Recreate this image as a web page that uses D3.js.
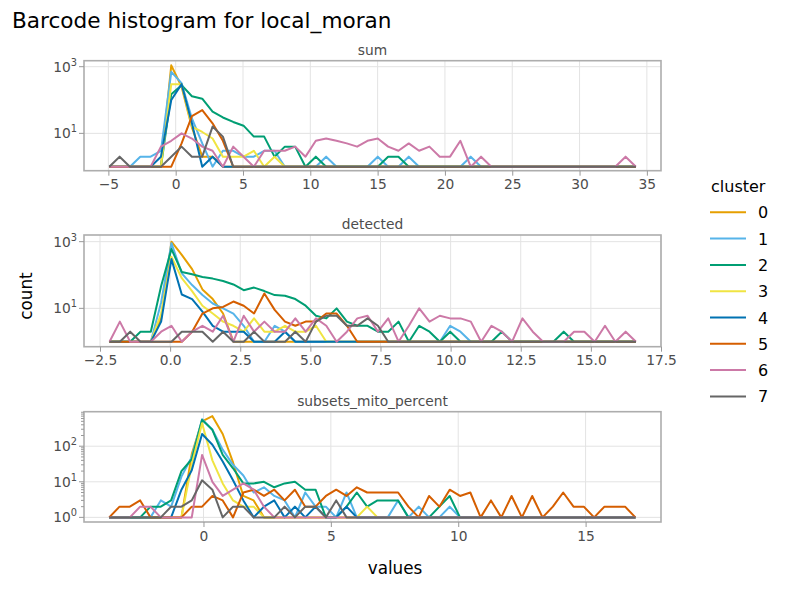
<!DOCTYPE html>
<html lang="en">
<head>
  <meta charset="UTF-8">
  <title>Barcode histogram</title>
  <style>
    body { margin: 0; background: #fff; }
    text { font-family: "DejaVu Sans", sans-serif; }
  </style>
</head>
<body>
<script src="https://d3js.org/d3.v7.min.js"></script>
<div id="chart"></div>
<script>
  // cluster ids and their colours
  const clusters = ["0", "1", "2", "3", "4", "5", "6", "7"];
  const colors = ["#E69F00", "#56B4E9", "#009E73", "#F0E442", "#0072B2", "#D55E00", "#CC79A7", "#666666"];

  const panelNames = ["sum", "detected", "subsets_mito_percent"];

  // bin centres: first centre and bin width per panel (52 bins each)
  const binStart = [-4.93, -2.16, -3.70];
  const binWidth = [0.767, 0.368, 0.405];

  const xTicks = [
    [-5, 0, 5, 10, 15, 20, 25, 30, 35],
    [-2.5, 0, 2.5, 5, 7.5, 10, 12.5, 15, 17.5],
    [0, 5, 10, 15]
  ];
  const xTickFmt = [d3.format("d"), d3.format(".1f"), d3.format("d")];
  const yTicks = [[10, 1000], [10, 1000], [1, 10, 100]];

  // counts per bin (count of 1 = empty baseline), one array per cluster
  const sumCounts = [
    [1,1,1,1,1,1,1100,250,15,2,2,1,1, 1,1,1,1,1,1,1,1,1,1,1,1,1, 1,1,1,1,1,1,1,1,1,1,1,1,1, 1,1,1,1,1,1,1,1,1,1,1,1,1],
    [1,1,1,2,2,3,700,320,28,5,1,3,3, 2,2,3,3,1,1,1,1,2,1,1,1,1, 2,1,1,2,1,1,1,1,1,2,1,1,1, 1,1,1,1,1,1,1,1,1,1,1,1,1],
    [1,1,1,1,1,1,150,280,130,110,45,30,22, 17,8,8,2,4,4,1,2,1,1,1,1,1, 1,2,2,1,1,1,1,1,1,1,1,1,1, 1,1,1,1,1,1,1,1,1,1,1,1,1],
    [1,1,1,1,1,1,300,300,16,11,7,2,2, 2,3,1,2,1,1,1,1,1,1,1,1,1, 1,1,1,1,1,1,1,1,1,1,1,1,1, 1,1,1,1,1,1,1,1,1,1,1,1,1],
    [1,1,1,1,1,2,100,300,20,1,2,1,1, 1,1,1,1,1,1,1,1,1,1,1,1,1, 1,1,1,1,1,1,1,1,1,1,1,1,1, 1,1,1,1,1,1,1,1,1,1,1,1,1],
    [1,1,1,1,1,1,1,5,33,50,20,6,1, 1,1,1,1,1,1,1,1,1,1,1,1,1, 1,1,1,1,1,1,1,1,1,1,1,1,1, 1,1,1,1,1,1,1,1,1,1,1,1,1],
    [1,1,1,1,1,4,6,10,7,4,3,1,4, 2,1,3,3,3,4,2,6,7,6,5,4,6, 7,4,3,5,3,4,2,2,6,1,2,1,1, 1,1,1,1,1,1,1,1,1,1,1,2,1],
    [1,2,1,1,1,1,2,4,2,2,16,8,1, 1,1,1,1,1,1,1,1,1,1,1,1,1, 1,1,1,1,1,1,1,1,1,1,1,1,1, 1,1,1,1,1,1,1,1,1,1,1,1,1]
  ];
  const detectedCounts = [
    [1,1,1,1,1,5,1000,400,150,37,19,7,1, 1,1,1,1,1,1,1,1,1,1,1,1,1, 1,1,1,1,1,1,1,1,1,1,1,1,1, 1,1,1,1,1,1,1,1,1,1,1,1,1],
    [1,1,1,1,1,15,900,112,50,25,14,10,7, 3,1,1,3,2,1,1,1,1,1,1,1,1, 1,1,1,1,1,1,1,3,2,1,1,1,1, 1,1,1,1,1,1,1,1,1,1,1,1,1],
    [1,1,1,2,2,47,600,123,105,87,78,66,52, 35,42,33,25,24,19,12,6,5,10,4,3,3, 2,2,4,1,3,2,1,2,1,1,1,1,2, 1,1,1,1,1,2,1,1,1,1,1,1,1],
    [1,1,1,1,1,7,350,80,33,12,7,4,3, 2,5,2,2,3,2,2,3,1,1,1,1,1, 1,1,1,1,1,1,1,1,1,1,1,1,1, 1,1,1,1,1,1,1,1,1,1,1,1,1],
    [1,1,1,1,1,4,300,26,19,8,3,2,2, 2,1,1,1,2,1,1,1,1,1,1,1,1, 1,1,1,1,1,1,1,1,1,1,1,1,1, 1,1,1,1,1,1,1,1,1,1,1,1,1],
    [1,1,1,1,1,1,1,1,2,7,10,11,16, 12,7,28,9,4,3,4,4,7,7,3,1,1, 1,1,1,1,1,1,1,1,1,1,1,1,1, 1,1,1,1,1,1,1,1,1,1,1,1,1],
    [1,4,1,1,1,2,3,1,2,3,2,6,1, 6,2,4,2,2,5,2,5,3,1,2,5,6, 2,5,1,3,10,4,6,5,5,4,1,3,2, 1,5,2,1,1,1,2,2,1,3,1,2,1],
    [1,1,2,1,1,1,1,2,2,2,1,2,1, 1,2,1,1,1,2,1,4,6,6,3,3,5, 3,1,1,1,1,1,1,1,1,1,1,1,1, 1,1,1,1,1,1,1,1,1,1,1,1,1]
  ];
  const mitoCounts = [
    [1,1,1,1,1,1,1,1,60,500,700,220,35, 4,3,1,1,1,1,1,1,1,1,1,1,1, 1,1,1,1,1,1,1,1,1,1,1,1,1, 1,1,1,1,1,1,1,1,1,1,1,1,1],
    [1,1,1,1,1,3,2,14,50,570,290,80,30, 15,5,7,4,3,1,5,2,2,1,5,1,1, 1,1,3,1,2,1,1,2,1,1,1,1,1, 1,1,1,1,1,1,1,1,1,1,1,1,1],
    [1,1,1,1,2,2,3,20,43,550,290,57,24, 9,9,10,7,9,10,6,6,1,1,2,5,2, 3,3,3,1,1,1,2,4,1,1,1,1,1, 1,1,1,1,1,1,1,1,1,1,1,1,1],
    [1,1,1,1,1,1,1,1,30,440,40,9,3, 2,2,1,1,1,1,1,1,1,1,1,1,2, 1,1,1,1,1,1,1,1,1,1,1,1,1, 1,1,1,1,1,1,1,1,1,1,1,1,1],
    [1,1,1,1,1,1,1,6,21,220,110,37,11, 3,1,2,3,1,2,1,2,1,1,2,1,1, 1,1,1,1,1,1,1,1,1,1,1,1,1, 1,1,1,1,1,1,1,1,1,1,1,1,1],
    [1,2,2,3,1,1,1,1,2,2,4,3,1, 5,6,4,6,3,6,2,2,4,6,4,7,5, 5,5,5,2,1,4,2,6,4,5,1,3,1, 4,1,4,1,2,5,2,2,1,2,2,2,1],
    [1,1,1,2,2,1,1,1,1,57,10,4,6, 9,6,2,1,1,1,1,1,1,1,1,1,1, 1,1,1,1,1,1,1,1,1,1,1,1,1, 1,1,1,1,1,1,1,1,1,1,1,1,1],
    [1,1,1,1,1,1,2,2,3,11,6,1,2, 2,1,1,1,2,1,2,2,1,3,1,1,1, 1,1,1,1,1,1,1,1,1,1,1,1,1, 1,1,1,1,1,1,1,1,1,1,1,1,1]
  ];
  const panelCounts = [sumCounts, detectedCounts, mitoCounts];

  // layout
  const width = 786, height = 589;
  const left = 84, right = 661;
  const tops = [60.7, 235, 411.7], bottoms = [170.7, 346.7, 522];
  const xDomains = [[-6.81, 36.05], [-3.07, 17.5], [-4.69, 17.96]];
  const yLogDomains = [[-0.12, 3.18], [-0.15, 3.2], [-0.13, 2.97]];

  const svg = d3.select("#chart").append("svg")
    .attr("width", width)
    .attr("height", height);

  svg.append("rect").attr("width", width).attr("height", height).attr("fill", "#fff");

  svg.append("text")
    .attr("x", 12).attr("y", 28)
    .attr("font-size", 21.6)
    .attr("fill", "#000")
    .text("Barcode histogram for local_moran");

  panelNames.forEach(function(name, p) {
    const x = d3.scaleLinear().domain(xDomains[p]).range([left, right]);
    const y = d3.scaleLog()
      .domain([Math.pow(10, yLogDomains[p][0]), Math.pow(10, yLogDomains[p][1])])
      .range([bottoms[p], tops[p]]);
    const g = svg.append("g");

    // grid
    g.selectAll(".vgrid").data(xTicks[p]).join("line")
      .attr("x1", d => x(d)).attr("x2", d => x(d))
      .attr("y1", tops[p]).attr("y2", bottoms[p])
      .attr("stroke", "#e3e3e3").attr("stroke-width", 1);
    g.selectAll(".hgrid").data(yTicks[p]).join("line")
      .attr("x1", left).attr("x2", right)
      .attr("y1", d => y(d)).attr("y2", d => y(d))
      .attr("stroke", "#e3e3e3").attr("stroke-width", 1);

    // lines
    const centres = d3.range(panelCounts[p][0].length).map(i => binStart[p] + i * binWidth[p]);
    const line = d3.line()
      .x((d, i) => x(centres[i]))
      .y(d => y(d));
    panelCounts[p].forEach(function(counts, c) {
      g.append("path")
        .datum(counts)
        .attr("d", line)
        .attr("fill", "none")
        .attr("stroke", colors[c])
        .attr("stroke-width", 2)
        .attr("stroke-linejoin", "round");
    });

    // frame
    g.append("rect")
      .attr("x", left).attr("y", tops[p])
      .attr("width", right - left).attr("height", bottoms[p] - tops[p])
      .attr("fill", "none").attr("stroke", "#adadad").attr("stroke-width", 1.6);

    // x axis
    const xa = g.append("g").attr("transform", "translate(0," + bottoms[p] + ")")
      .call(d3.axisBottom(x).tickValues(xTicks[p]).tickSize(5).tickPadding(4)
        .tickFormat(d => xTickFmt[p](d).replace("-", "\u2212")));
    xa.select(".domain").remove();
    xa.selectAll(".tick line").attr("stroke", "#999");
    xa.selectAll(".tick text").attr("fill", "#4d4d4d").attr("font-size", 13.8)
      .attr("font-family", "DejaVu Sans");

    // y axis, log labels as 10^k
    const ya = g.append("g");
    if (p === 2) {
      const minor = [];
      [1, 10, 100].forEach(b => d3.range(2, 10).forEach(m => { if (b * m < y.domain()[1]) minor.push(b * m); }));
      ya.selectAll(".minor").data(minor).join("line")
        .attr("x1", left - 3).attr("x2", left)
        .attr("y1", d => y(d)).attr("y2", d => y(d))
        .attr("stroke", "#999");
    }
    ya.selectAll(".major").data(yTicks[p]).join("line")
      .attr("x1", left - 5).attr("x2", left)
      .attr("y1", d => y(d)).attr("y2", d => y(d))
      .attr("stroke", "#999");
    const lab = ya.selectAll(".lab").data(yTicks[p]).join("text")
      .attr("x", left - 7).attr("y", d => y(d) + 5)
      .attr("text-anchor", "end")
      .attr("fill", "#4d4d4d").attr("font-size", 13.8);
    lab.append("tspan").text("10");
    lab.append("tspan").attr("dy", -6).attr("font-size", 9.8)
      .text(d => Math.round(Math.log10(d)));

    // strip title
    svg.append("text")
      .attr("x", (left + right) / 2).attr("y", tops[p] - 6)
      .attr("text-anchor", "middle")
      .attr("fill", "#4d4d4d").attr("font-size", 13.8)
      .text(name);
  });

  // axis titles
  svg.append("text")
    .attr("x", 395).attr("y", 574)
    .attr("text-anchor", "middle").attr("font-size", 16.8)
    .text("values");
  svg.append("text")
    .attr("transform", "translate(32,296) rotate(-90)")
    .attr("text-anchor", "middle").attr("font-size", 16.8)
    .text("count");

  // legend
  const lg = svg.append("g");
  lg.append("text").attr("x", 711).attr("y", 192).attr("font-size", 16).text("cluster");
  clusters.forEach(function(c, i) {
    const yy = 212.3 + i * 26.3;
    lg.append("line").attr("x1", 710).attr("x2", 746).attr("y1", yy).attr("y2", yy)
      .attr("stroke", colors[i]).attr("stroke-width", 2);
    lg.append("text").attr("x", 758).attr("y", yy + 6).attr("font-size", 16).text(c);
  });
</script>
</body>
</html>
